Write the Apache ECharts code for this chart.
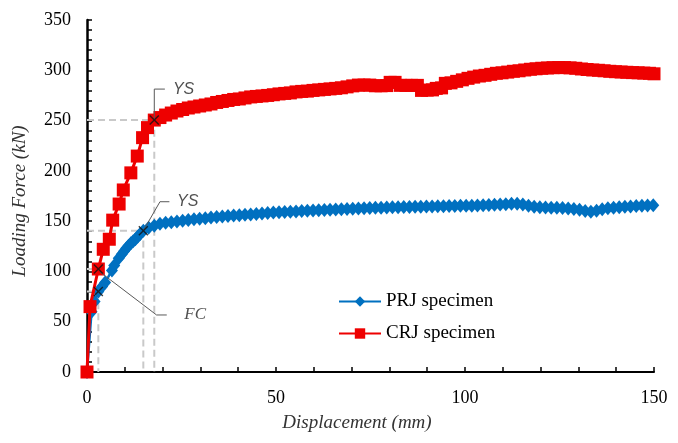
<!DOCTYPE html>
<html><head><meta charset="utf-8">
<script src="https://cdn.jsdelivr.net/npm/echarts@6/dist/echarts.min.js"></script>
<style>html,body{margin:0;padding:0;background:#fff}#c{width:678px;height:443px}</style>
</head><body><div id="c"></div>
<script>
// ---- data ----
const prjDisp = [0,1.2,2.0,3.0,4.0,4.8,6.6,7.2,8.4,9.2,9.8,10.4,11.0,11.6,12.2,12.8,13.4,14.0,14.9,
  16.3,17.8,19.3,20.8,22.3,23.8,25.3,26.8,28.3,29.8,31.3,32.8,34.3,35.8,37.3,38.8,40.3,41.8,43.3,44.8,46.3,47.8,49.3,50.8,52.3,53.8,55.3,56.8,58.3,59.8,61.3,62.8,64.3,65.8,67.3,68.8,70.3,71.8,73.3,74.8,76.3,77.8,79.3,80.8,82.3,83.8,85.3,86.8,88.3,89.8,91.3,92.8,94.3,95.8,97.3,98.8,100.3,101.8,103.3,104.8,106.3,107.8,109.3,110.8,112.3,113.8,115.3,116.8,118.3,119.8,121.3,122.8,124.3,125.8,127.3,128.8,130.3,131.8,133.3,134.8,136.3,137.8,139.3,140.8,142.3,143.8,145.3,146.8,148.3,149.8];
const prjForce = [0,60,70,80,85,89,101,106,113,117,120,123,125.5,128,130,132,134.5,137,140.5,
  143.5,145.5,147.3,148.3,149,149.7,150.5,151.2,151.8,152.4,153,153.5,154,154.5,155,155.5,155.9,156.3,156.7,157.1,157.5,158,158.5,158.8,159.1,159.4,159.7,160,160.3,160.6,160.8,161,161.3,161.5,161.8,162,162.3,162.5,162.8,163,163.2,163.4,163.6,163.7,163.8,164,164.1,164.3,164.4,164.5,164.6,164.8,164.9,165,165.1,165.2,165.3,165.3,165.5,165.7,166,166.3,166.6,166.9,167.2,167.4,166.5,165.3,164.3,163.7,163.6,163.4,163.2,163,162.6,162,161.3,160,159.3,160.3,161.8,162.8,163.4,163.8,164.2,164.6,165,165.3,165.5,165.7];
const crjDisp = [0,0.8,3.0,4.3,5.9,6.8,8.5,9.6,11.6,13.3,14.7,16.0,17.8,
  19.3,20.8,22.3,23.8,25.3,26.8,28.3,29.8,31.3,32.8,34.3,35.8,37.3,38.8,40.3,41.8,43.3,44.8,46.3,47.8,49.3,50.8,52.3,53.8,55.3,56.8,58.3,59.8,61.3,62.8,64.3,65.8,67.3,68.8,70.3,71.8,73.3,74.8,76.3,77.8,79.3,
  80.2,81.5,82.9,84.4,85.9,87.4,88.5,90.0,91.4,92.4,93.8,94.8,
  96.3,97.8,99.3,100.8,102.3,103.8,105.3,106.8,108.3,109.8,111.3,112.8,114.3,115.8,117.3,118.8,120.3,121.8,123.3,124.8,126.3,127.8,129.3,130.8,132.3,133.8,135.3,136.8,138.3,139.8,141.3,142.8,144.3,145.8,147.3,148.8,150];
const crjForce = [0,65,102.4,122,132,151,167,181,198,214.7,233,243,250.5,
  253,255.5,257.5,259.5,261,262.5,263.5,264.5,265.5,266.5,268,269,270,271,271.5,272.5,273.5,274,274.5,275,275.7,276.5,277,277.5,278.5,279,279.3,280,280.5,281,281.5,282,282.6,283.5,284.5,285.3,285.3,285.3,284.6,284.6,284.8,
  288,288,285,285,285,285,280,280.3,280.5,282,282.5,287,
  287.5,289,290.5,292,293.2,294.3,295,296,297,297.5,298.2,299,299.5,300.3,301,301.5,302,302.3,302.6,302.7,302.7,302.4,302,301.3,300.8,300.3,300,299.5,299,298.6,298.3,298,297.7,297.5,297.2,297,296.5];
const seriesNames = ['PRJ specimen','CRJ specimen'];
const xTickLabels = [0,50,100,150];
const yTickLabels = [0,50,100,150,200,250,300,350];
// annotation points (yield / first crack) in data units
const crossPoints = [[17.8,250.5],[14.9,140.5],[3.0,80],[3.0,102.4]];
const guidePaths = [
  [[0,250.5],[17.8,250.5],[17.8,0]],
  [[0,140.5],[14.9,140.5],[14.9,0]],
  [[0,80],[3.0,80],[3.0,0]],
  [[0,102.4],[3.0,102.4]]
];
const leaderPaths = [
  [[17.8,250.5],[17.8,281.3],[20.6,281.3]],
  [[14.9,140.5],[19.3,169.3],[21.8,169.3]],
  [[3.4,99.6],[18.4,56.7],[21.1,56.7]]
];
const noteTexts = ['YS','YS','FC'];
const notePos = [[22.6,281.3],[23.7,169.3],[25.6,56.7]];

const zip = (a,b)=>a.map((v,i)=>[v,b[i]]);
const serif = '"Liberation Serif","Times New Roman",serif';
const sans = '"Liberation Sans",Arial,sans-serif';
const crossPath = 'path://M0,1L1,0L5,4L9,0L10,1L6,5L10,9L9,10L5,6L1,10L0,9L4,5Z';

const series = [];
guidePaths.forEach(p=>series.push({type:'line',data:p,symbol:'none',silent:true,z:1,
  lineStyle:{color:'#C9C9C9',width:2,type:[7,4]}}));
series.push({name:seriesNames[0],type:'line',data:zip(prjDisp,prjForce),symbol:'diamond',symbolSize:[12,14],
  itemStyle:{color:'#0070C0'},lineStyle:{color:'#0070C0',width:2.5},z:2});
series.push({name:seriesNames[1],type:'line',data:zip(crjDisp,crjForce),symbol:'rect',symbolSize:13,
  itemStyle:{color:'#EE0000'},lineStyle:{color:'#EE0000',width:3},z:3});
leaderPaths.forEach(p=>series.push({type:'line',data:p,symbol:'none',silent:true,z:4,
  lineStyle:{color:'#595959',width:1}}));
series.push({type:'scatter',data:crossPoints,symbol:crossPath,symbolSize:10,silent:true,z:5,
  itemStyle:{color:'#111'}});
series.push({type:'scatter',silent:true,z:5,symbolSize:1,itemStyle:{color:'rgba(0,0,0,0)'},
  data:notePos.map((p,i)=>({value:p,label:{show:true,position:'right',distance:0,formatter:noteTexts[i],
    fontStyle:'italic',color:'#222',
    fontFamily: noteTexts[i]==='FC'?serif:sans, fontSize: noteTexts[i]==='FC'?17:16}}))});

const chart = echarts.init(document.getElementById('c'),null,{renderer:'canvas'});
chart.setOption({
  animation:false,
  backgroundColor:'#fff',
  grid:{left:87,right:24,top:20,bottom:71,containLabel:false},
  legend:{data:seriesNames,orient:'vertical',left:333,top:287,itemWidth:42,itemHeight:13,itemGap:13,
    textStyle:{fontFamily:serif,fontSize:19,color:'#000'}},
  xAxis:{type:'value',min:0,max:150,interval:10,
    axisLine:{lineStyle:{color:'#000',width:2}},
    axisTick:{inside:true,length:5,lineStyle:{color:'#000',width:1.5}},
    axisLabel:{formatter:v=>xTickLabels.includes(v)?String(v):'',fontFamily:serif,fontSize:18,color:'#000',margin:17},
    splitLine:{show:false}},
  yAxis:{type:'value',min:0,max:350,interval:10,
    axisLine:{show:true,lineStyle:{color:'#000',width:2.5}},
    axisTick:{show:true,inside:true,length:5,lineStyle:{color:'#000',width:1.5}},
    axisLabel:{formatter:v=>yTickLabels.includes(v)?String(v):'',fontFamily:serif,fontSize:18,color:'#000',margin:16},
    splitLine:{show:false}},
  graphic:[
    {type:'text',x:20,y:201,rotation:Math.PI/2,
      style:{text:'Loading Force (kN)',font:'italic 19px '+serif,fill:'#333',textAlign:'center',textVerticalAlign:'middle'}},
    {type:'text',x:357,y:423,
      style:{text:'Displacement (mm)',font:'italic 19px '+serif,fill:'#333',textAlign:'center',textVerticalAlign:'middle'}}
  ],
  series:series
});
</script></body></html>
